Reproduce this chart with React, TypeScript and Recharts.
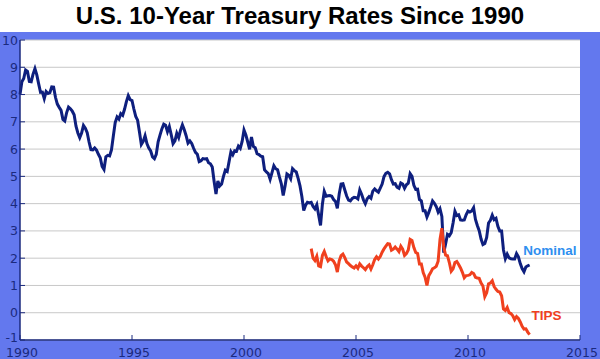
import * as React from 'react';
import { CartesianGrid, Line, LineChart, ReferenceDot, XAxis, YAxis } from 'recharts';

// monthly 10-year nominal yields, Jan 1990 onward
const NOMINAL_START = 1990;
const nominalRates = [
  8.0, 8.47, 8.59, 8.9, 8.85, 8.48, 8.47, 8.75, 8.95, 8.72, 8.39, 8.08,
  8.09, 7.85, 8.11, 8.04, 8.07, 8.28, 8.27, 7.9, 7.65, 7.53, 7.42, 7.09,
  7.03, 7.34, 7.54, 7.48, 7.39, 7.26, 6.84, 6.59, 6.42, 6.59, 6.87, 6.77,
  6.6, 6.26, 5.98, 5.97, 6.04, 5.96, 5.81, 5.68, 5.36, 5.25, 5.72, 5.77,
  5.75, 5.97, 6.48, 6.97, 7.18, 7.1, 7.3, 7.24, 7.46, 7.74, 7.96, 7.81,
  7.78, 7.47, 7.2, 7.06, 6.63, 6.17, 6.28, 6.49, 6.2, 6.04, 5.93, 5.71,
  5.65, 5.81, 6.27, 6.51, 6.74, 6.91, 6.87, 6.64, 6.83, 6.53, 6.2, 6.3,
  6.58, 6.42, 6.69, 6.89, 6.71, 6.49, 6.22, 6.3, 6.21, 6.03, 5.88, 5.81,
  5.54, 5.57, 5.65, 5.64, 5.65, 5.5, 5.46, 5.34, 4.81, 4.35, 4.83, 4.65,
  4.72, 5.0, 5.23, 5.18, 5.54, 5.9, 5.79, 5.94, 5.92, 6.11, 6.03, 6.28,
  6.7, 6.52, 6.26, 5.99, 6.44, 6.1, 6.05, 5.83, 5.8, 5.74, 5.72, 5.24,
  5.16, 5.1, 4.89, 5.14, 5.39, 5.28, 5.24, 4.97, 4.73, 4.3, 4.65, 5.09,
  5.04, 4.91, 5.28, 5.21, 5.16, 4.93, 4.65, 4.26, 3.75, 3.94, 4.05, 4.03,
  4.05, 3.9, 3.81, 3.96, 3.57, 3.2, 3.98, 4.45, 4.27, 4.29, 4.3, 4.27,
  4.15, 4.08, 3.83, 4.35, 4.72, 4.73, 4.5, 4.28, 4.13, 4.1, 4.19, 4.23,
  4.22, 4.17, 4.5, 4.34, 4.14, 4.0, 4.18, 4.26, 4.2, 4.46, 4.54, 4.47,
  4.42, 4.57, 4.72, 4.99, 5.11, 5.15, 5.09, 4.88, 4.72, 4.73, 4.6, 4.56,
  4.76, 4.72, 4.56, 4.69, 4.75, 5.1, 5.0, 4.67, 4.52, 4.53, 4.15, 4.1,
  3.74, 3.74, 3.51, 3.68, 3.88, 4.1, 4.01, 3.89, 3.69, 3.81, 3.53, 2.2,
  2.52, 2.87, 2.82, 2.93, 3.29, 3.72, 3.56, 3.59, 3.4, 3.39, 3.4, 3.59,
  3.73, 3.69, 3.73, 3.85, 3.42, 3.2, 3.01, 2.7, 2.5, 2.54, 2.76, 3.29,
  3.39, 3.58, 3.41, 3.46, 3.17, 3.0, 3.0, 2.3, 1.98, 2.15, 2.01, 1.98,
  1.97, 1.97, 2.17, 2.05, 1.8, 1.62, 1.5, 1.68, 1.72, 1.75
];

// monthly 10-year TIPS real yields, Jan 2003 onward
const TIPS_START = 2003;
const tipsRates = [
  2.35, 2.0, 1.91, 2.07, 1.72, 1.69, 2.1, 2.25, 2.06, 1.9, 1.97, 1.95,
  1.89, 1.76, 1.49, 1.9, 2.09, 2.15, 2.02, 1.86, 1.8, 1.73, 1.68, 1.64,
  1.72, 1.63, 1.79, 1.71, 1.65, 1.58, 1.69, 1.75, 1.6, 1.76, 1.95, 2.05,
  1.97, 2.06, 2.22, 2.34, 2.44, 2.53, 2.52, 2.29, 2.33, 2.41, 2.33, 2.24,
  2.44, 2.33, 2.1, 2.17, 2.3, 2.69, 2.65, 2.39, 2.21, 2.17, 1.79, 1.79,
  1.47, 1.3, 1.0, 1.36, 1.47, 1.61, 1.65, 1.7, 1.89, 2.69, 3.1, 2.41,
  2.11, 2.09, 1.84, 1.52, 1.61, 1.84, 1.88, 1.77, 1.64, 1.48, 1.28, 1.36,
  1.37, 1.39, 1.48, 1.44, 1.3, 1.27, 1.26, 1.09, 0.98, 0.59, 0.73, 1.06,
  1.09, 1.17, 0.96, 0.86, 0.78, 0.76, 0.62, 0.14, 0.08, 0.19, 0.0, -0.03,
  -0.11, -0.25, -0.14, -0.21, -0.34, -0.5, -0.6, -0.59, -0.71, -0.8
];

const yearTicks = [1990, 1995, 2000, 2005, 2010, 2015];
const rateTicks = [-1, 0, 1, 2, 3, 4, 5, 6, 7, 8, 9, 10];

const NAVY = '#1b2a7e';
const BG_BLUE = '#6378ee';

const toSeries = (values: number[], start: number) =>
  values.map((v, i) => ({ year: start + i / 12, value: v }));

const nominalData = toSeries(nominalRates, NOMINAL_START);
const tipsData = toSeries(tipsRates, TIPS_START);

const tickFont = { fontFamily: 'DejaVu Sans, Verdana, sans-serif', fontSize: 12.5 };

function YTick({ y, payload }: any) {
  return (
    <g>
      <line x1={20} x2={25} y1={y} y2={y} stroke={NAVY} />
      <text x={18} y={y} dy={payload.value === -1 ? 2 : 4.5} textAnchor="end" fill={NAVY} {...tickFont}>
        {payload.value}
      </text>
    </g>
  );
}

function XTick({ x, payload }: any) {
  return (
    <g>
      <line x1={x} x2={x} y1={308} y2={303} stroke={NAVY} />
      <text x={x + 2} y={325} textAnchor="middle" fill={NAVY} {...tickFont}>
        {payload.value}
      </text>
    </g>
  );
}

export default function App() {
  return (
    <div style={{ position: 'fixed', left: 0, top: 0, width: 600, height: 359, background: '#fff' }}>
      <div
        style={{
          position: 'absolute',
          left: 0,
          top: 0,
          width: 600,
          height: 32,
          lineHeight: '32px',
          textAlign: 'center',
          fontFamily: 'Liberation Sans, Arial, sans-serif',
          fontWeight: 'bold',
          fontSize: 24,
          color: '#000'
        }}
      >
        U.S. 10-Year Treasury Rates Since 1990
      </div>
      <div style={{ position: 'absolute', left: 0, top: 32, width: 600, height: 327, background: BG_BLUE }}>
        <LineChart width={600} height={327} margin={{ top: 8, right: 20, bottom: 0, left: 0 }}>
          <CartesianGrid fill="#fff" vertical={false} stroke="#c8c8c8" strokeWidth={1} />
          <XAxis
            type="number"
            dataKey="year"
            domain={[1990, 2015]}
            ticks={yearTicks}
            height={19}
            tickLine={false}
            axisLine={{ stroke: NAVY, strokeWidth: 1.5 }}
            tick={<XTick />}
            interval={0}
          />
          <YAxis
            type="number"
            domain={[-1, 10]}
            ticks={rateTicks}
            width={20}
            tickLine={false}
            axisLine={{ stroke: NAVY, strokeWidth: 1.5 }}
            tick={<YTick />}
            interval={0}
          />
          <Line
            data={nominalData}
            dataKey="value"
            type="linear"
            stroke="#0e1f7e"
            strokeWidth={3}
            dot={false}
            isAnimationActive={false}
          />
          <Line
            data={tipsData}
            dataKey="value"
            type="linear"
            stroke="#f0401e"
            strokeWidth={3}
            dot={false}
            isAnimationActive={false}
          />
          <ReferenceDot
            x={2013.66}
            y={2.31}
            r={0}
            label={{
              value: 'Nominal',
              position: 'center',
              fill: '#2f8fef',
              fontWeight: 'bold',
              fontSize: 13.5,
              fontFamily: 'Liberation Sans, Arial, sans-serif'
            }}
          />
          <ReferenceDot
            x={2013.5}
            y={-0.08}
            r={0}
            label={{
              value: 'TIPS',
              position: 'center',
              fill: '#f0401e',
              fontWeight: 'bold',
              fontSize: 13.5,
              fontFamily: 'Liberation Sans, Arial, sans-serif'
            }}
          />
        </LineChart>
      </div>
    </div>
  );
}
